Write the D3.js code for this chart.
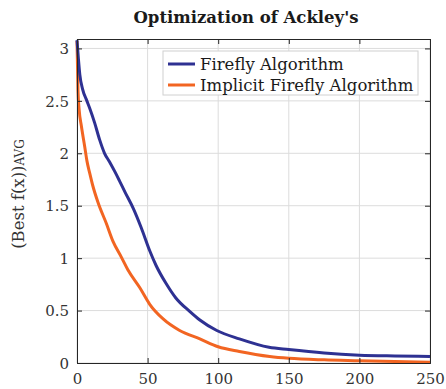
<!DOCTYPE html>
<html>
<head>
<meta charset="utf-8">
<script src="https://cdn.jsdelivr.net/npm/d3@7"></script>
<style>
  body { margin: 0; background: #fff; }
  text { font-family: "DejaVu Serif", serif; }
</style>
</head>
<body>
<div id="chart"></div>
<script>
// data
var iters = [0, 1, 2, 4, 7, 9, 12.5, 16, 19.5, 23, 27, 30, 34, 40, 45.5, 51.5, 56, 63, 70, 80, 87, 99, 115, 136, 150, 175, 200, 225, 250];
var fireflyVals = [3.08, 2.9, 2.75, 2.61, 2.5, 2.43, 2.29, 2.13, 2.0, 1.92, 1.82, 1.74, 1.63, 1.47, 1.29, 1.07, 0.93, 0.76, 0.62, 0.49, 0.41, 0.31, 0.23, 0.15, 0.128, 0.095, 0.075, 0.067, 0.062];

var itersImp = [0, 0.7, 1.5, 3.1, 5.5, 7, 9, 11, 14.9, 20.8, 25.5, 31.4, 36, 44.4, 51.5, 61, 72.7, 87, 100, 115, 136.5, 150, 175, 200, 225, 250];
var implicitVals = [3.07, 2.6, 2.42, 2.26, 2.06, 1.93, 1.81, 1.70, 1.53, 1.33, 1.16, 1.01, 0.89, 0.72, 0.56, 0.42, 0.31, 0.23, 0.155, 0.11, 0.062, 0.045, 0.03, 0.022, 0.014, 0.008];

var xTicks = [0, 50, 100, 150, 200, 250];
var yTicks = [0, 0.5, 1, 1.5, 2, 2.5, 3];
var seriesNames = ["Firefly Algorithm", "Implicit Firefly Algorithm"];
var seriesColors = ["#2e3192", "#f26522"];

var width = 446, height = 389;
var margin = {top: 39, right: 16, bottom: 26, left: 77};

var svg = d3.select("#chart").append("svg")
    .attr("width", width)
    .attr("height", height);

var x = d3.scaleLinear().domain([0, 250]).range([margin.left, width - margin.right]);
var y = d3.scaleLinear().domain([0, 3.09]).range([height - margin.bottom, margin.top]);

// GRID
svg.append("g").selectAll("line.gx")
    .data(xTicks).enter().append("line")
    .attr("x1", d => x(d)).attr("x2", d => x(d))
    .attr("y1", y.range()[0]).attr("y2", y.range()[1])
    .attr("stroke", "#dcdcdc").attr("stroke-width", 1);
svg.append("g").selectAll("line.gy")
    .data(yTicks).enter().append("line")
    .attr("y1", d => y(d)).attr("y2", d => y(d))
    .attr("x1", x.range()[0]).attr("x2", x.range()[1])
    .attr("stroke", "#dcdcdc").attr("stroke-width", 1);

// LINES
var line = d3.line()
    .x(d => x(d[0]))
    .y(d => y(d[1]))
    .curve(d3.curveMonotoneX);

var series = [
  iters.map((d, i) => [d, fireflyVals[i]]),
  itersImp.map((d, i) => [d, implicitVals[i]])
];

svg.append("g").selectAll("path")
    .data([series[1], series[0]]).enter().append("path")
    .attr("d", line)
    .attr("fill", "none")
    .attr("stroke", (d, i) => i == 0 ? seriesColors[1] : seriesColors[0])
    .attr("stroke-width", 3);

// AXES
var xAxis = svg.append("g")
    .attr("transform", "translate(0," + y(0) + ")")
    .call(d3.axisBottom(x).tickValues(xTicks).tickSize(-5).tickPadding(10));
var xTop = svg.append("g")
    .attr("transform", "translate(0," + margin.top + ")")
    .call(d3.axisTop(x).tickValues(xTicks).tickSize(-5).tickFormat(""));
var yAxis = svg.append("g")
    .attr("transform", "translate(" + margin.left + ",0)")
    .call(d3.axisLeft(y).tickValues(yTicks).tickSize(-5).tickPadding(8).tickFormat(d3.format("")));
var yRight = svg.append("g")
    .attr("transform", "translate(" + (width - margin.right) + ",0)")
    .call(d3.axisRight(y).tickValues(yTicks).tickSize(-5).tickFormat(""));

[xAxis, xTop, yAxis, yRight].forEach(function(a) {
  a.select(".domain").attr("stroke", "#262626");
  a.selectAll(".tick line").attr("stroke", "#262626");
  a.selectAll("text")
    .attr("font-family", "DejaVu Serif")
    .attr("font-size", 15)
    .attr("fill", "#333");
});
yAxis.selectAll("text").attr("dy", "0.35em");

// TITLE
svg.append("text")
    .attr("x", 246)
    .attr("y", 23)
    .attr("text-anchor", "middle")
    .attr("font-size", 16.5)
    .attr("font-weight", "bold")
    .attr("fill", "#1a1a1a")
    .text("Optimization of Ackley's");

// Y LABEL
var yl = svg.append("text")
    .attr("transform", "translate(24,194) rotate(-90)")
    .attr("text-anchor", "middle")
    .attr("font-size", 16.5)
    .attr("fill", "#333");
yl.append("tspan").text("(Best f(x))");
yl.append("tspan").attr("font-size", 12).attr("dy", 0).text("AVG");

// LEGEND
var lg = svg.append("g").attr("class", "legend");
lg.append("rect")
    .attr("x", 163).attr("y", 51)
    .attr("width", 255).attr("height", 44)
    .attr("fill", "white")
    .attr("stroke", "#d0d0d0");
seriesNames.forEach(function(name, i) {
  var yy = 64 + i * 21;
  lg.append("line")
    .attr("x1", 168).attr("x2", 195)
    .attr("y1", yy).attr("y2", yy)
    .attr("stroke", seriesColors[i])
    .attr("stroke-width", 3);
  lg.append("text")
    .attr("x", 200).attr("y", yy)
    .attr("dy", "0.35em")
    .attr("font-size", 16.5)
    .attr("fill", "#1a1a1a")
    .text(name);
});
</script>
</body>
</html>
